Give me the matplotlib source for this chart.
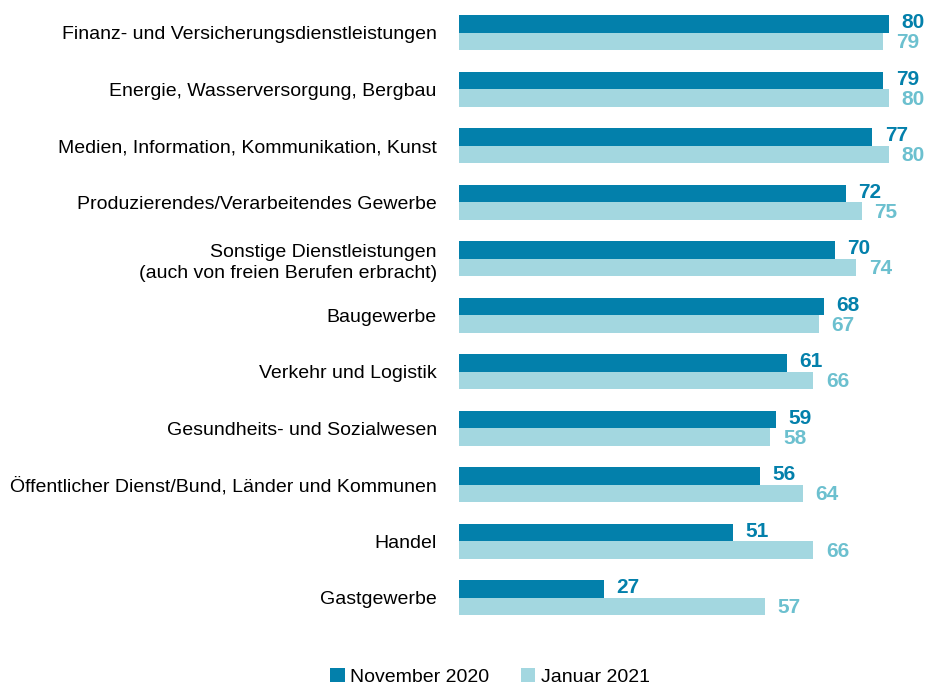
import matplotlib.pyplot as plt
import numpy as np

categories = [
    "Finanz- und Versicherungsdienstleistungen",
    "Energie, Wasserversorgung, Bergbau",
    "Medien, Information, Kommunikation, Kunst",
    "Produzierendes/Verarbeitendes Gewerbe",
    "Sonstige Dienstleistungen\n(auch von freien Berufen erbracht)",
    "Baugewerbe",
    "Verkehr und Logistik",
    "Gesundheits- und Sozialwesen",
    "Öffentlicher Dienst/Bund, Länder und Kommunen",
    "Handel",
    "Gastgewerbe",
]
nov_2020 = [80, 79, 77, 72, 70, 68, 61, 59, 56, 51, 27]
jan_2021 = [79, 80, 80, 75, 74, 67, 66, 58, 64, 66, 57]
series_names = ["November 2020", "Januar 2021"]

dark = '#0380ab'
light = '#a3d7e0'
light_text = '#6cc0cf'

plt.rcParams['font.family'] = ['Liberation Sans', 'DejaVu Sans']
fig = plt.figure(figsize=(9.3, 6.86), dpi=100)
ax = fig.add_axes([459/930, 0.0875, 466/930, 0.906])

y = np.arange(len(categories))
h = 0.31
ax.barh(y - h/2, nov_2020, height=h, color=dark, label=series_names[0])
ax.barh(y + h/2, jan_2021, height=h, color=light, label=series_names[1])

num_font = dict(fontsize=15, fontweight='bold', family=['Liberation Sans Narrow', 'Liberation Sans'])
for i in range(len(categories)):
    ax.annotate(str(nov_2020[i]), (nov_2020[i], y[i] - h/2), xytext=(9, 1),
                textcoords='offset points', va='center', ha='left', color=dark, **num_font)
    ax.annotate(str(jan_2021[i]), (jan_2021[i], y[i] + h/2), xytext=(9, -1),
                textcoords='offset points', va='center', ha='left', color=light_text, **num_font)

ax.set_xlim(0, 466/5.37)
ax.set_ylim(len(categories) - 0.5, -0.5)
ax.set_yticks(y)
ax.set_yticklabels(categories, fontsize=14, linespacing=1.3)
ax.tick_params(axis='y', length=0, pad=16)
ax.set_xticks([])
for s in ax.spines.values():
    s.set_visible(False)

fig.legend(loc='center', bbox_to_anchor=(0.527, 0.013), ncol=2, frameon=False,
           fontsize=14, handlelength=0.75, handleheight=0.75, handletextpad=0.3,
           columnspacing=1.6, borderaxespad=0)

fig.savefig('out.png', dpi=100)
